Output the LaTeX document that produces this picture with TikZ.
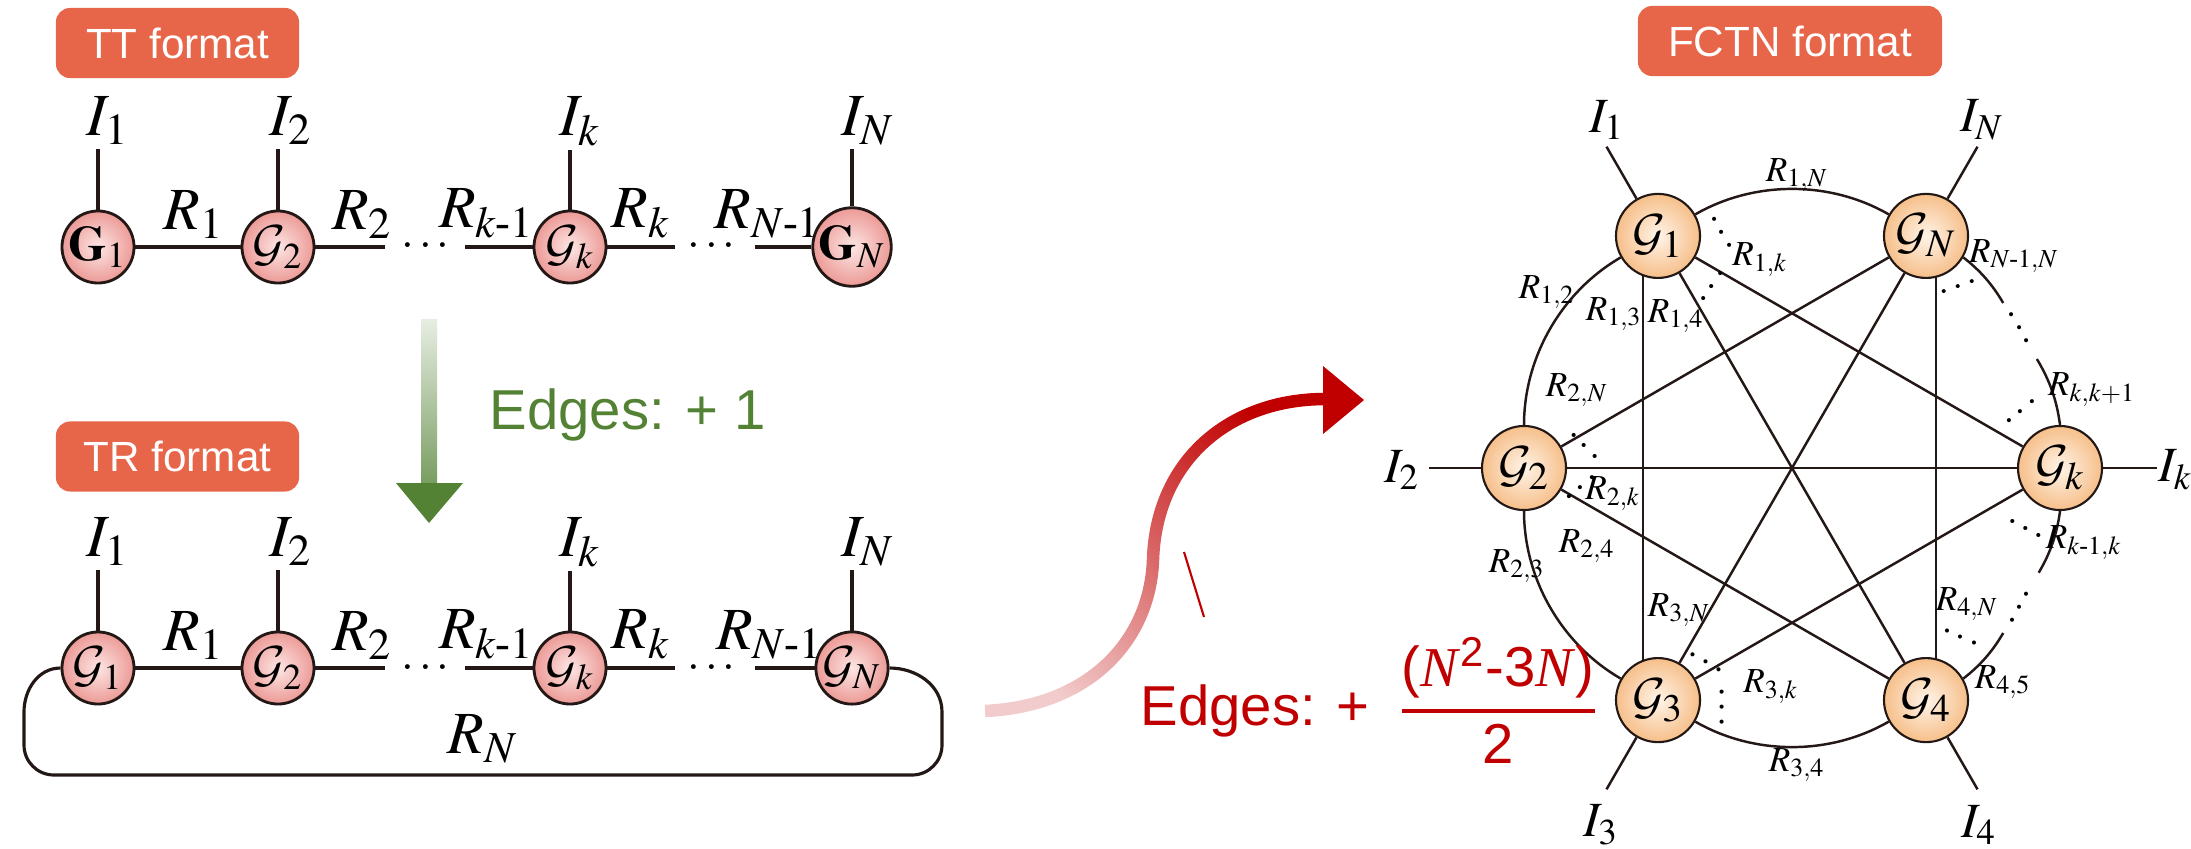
\documentclass[tikz,border=0pt]{standalone}
\usepackage{amsmath}
\usepackage{mathptmx}
\usepackage{fontspec}
\setmainfont{Liberation Serif}
\setsansfont{Liberation Sans}
\usetikzlibrary{positioning,calc,fadings}
\DeclareMathAlphabet{\mathcal}{OMS}{cmsy}{m}{n}
\definecolor{tagfill}{HTML}{E7664A}
\definecolor{ink}{HTML}{231815}
\definecolor{ttin}{HTML}{FCE6E4}
\definecolor{ttout}{HTML}{EC9A96}
\definecolor{fcin}{HTML}{FFF4E8}
\definecolor{fcout}{HTML}{F6BF8A}
\definecolor{gainA}{HTML}{548235}
\definecolor{gainB}{HTML}{C00000}
\pgfdeclarelayer{back}
\pgfsetlayers{back,main}
\tikzfading[name=riseup,left color=transparent!80,right color=transparent!0]
\newcommand{\nN}{\textrm{\textit{N}}}

\begin{document}
\begin{tikzpicture}[x=.01cm,y=-.01cm,
tag/.style={fill=tagfill,rounded corners=4pt,text=white,font=\sffamily\fontsize{12}{12}\selectfont,minimum height=.70cm,inner sep=0pt},
tnode/.style={circle,draw=ink,line width=.8pt,minimum size=.72cm,inner sep=0pt,inner color=ttin,outer color=ttout,font=\fontsize{14}{14}\selectfont},
fnode/.style={circle,draw=ink,line width=.6pt,minimum size=.84cm,inner sep=0pt,inner color=fcin,outer color=fcout,font=\fontsize{15}{15}\selectfont},
tlab/.style={font=\fontsize{17}{17}\selectfont,inner sep=1pt},
flab/.style={font=\fontsize{14}{14}\selectfont,inner sep=1pt},
rlab/.style={font=\fontsize{10}{10}\selectfont,inner sep=.5pt},
tline/.style={draw=ink,line width=1pt},
fline/.style={draw=ink,line width=.7pt},
farc/.style={fline,looseness=.9},
dots/.style={font=\fontsize{11}{11}\selectfont,inner sep=0pt},
gain/.style={font=\sffamily\fontsize{16}{16}\selectfont,anchor=base west,inner sep=0pt}]
\useasboundingbox (0,0) rectangle (2191,848);

% TT chain
\node[tag,minimum width=2.43cm] (tt) at (177.5,43) {TT format};
\node[tnode] (t1) at (98,247) {$\mathbf{G}_1$};
\node[tnode] (t2) at (278,247) {$\mathcal{G}_2$};
\node[tnode] (tk) at (570,247) {$\mathcal{G}_k$};
\node[tnode] (tN) at (852,247) {$\mathbf{G}_N$};
\node[tlab] (ti1) at (108,121) {$I_1$};
\node[tlab] (ti2) at (291,121) {$I_2$};
\node[tlab] (tik) at (580,121) {$I_k$};
\node[tlab] (tiN) at (868,121) {$I_N$};
\draw[tline] (t1)--(t1 |- ti1.south);
\draw[tline] (t2)--(t2 |- ti2.south);
\draw[tline] (tk)--(tk |- tik.south);
\draw[tline] (tN)--(tN |- tiN.south);
\coordinate (ta) at (385,247);
\coordinate (tb) at (465,247);
\coordinate (tc) at (675,247);
\coordinate (td) at (755,247);
\node[dots,font=\fontsize{13}{13}\selectfont] (tdt1) at (428,247) {$\cdots$};
\node[dots,font=\fontsize{13}{13}\selectfont] (tdt2) at (714,247) {$\cdots$};
\draw[tline] (t1)--node[tlab,above=1pt,xshift=.06cm]{$R_1$}(t2);
\draw[tline] (t2)--node[tlab,above=1pt,xshift=.12cm]{$R_2$}(ta);
\draw[tline] (tb)--node[tlab,above=1pt,xshift=-.12cm]{$R_{k\text{-}1}$}(tk);
\draw[tline] (tk)--node[tlab,above=1pt]{$R_k$}(tc);
\draw[tline] (td)--node[tlab,above=1pt,xshift=-.15cm]{$R_{N\text{-}1}$}(tN);

% step down
\coordinate (gtop) at (429,319);
\coordinate (gtip) at (429,523);
\shade[top color=gainA!14,bottom color=gainA!78] (421,319) rectangle (437,483);
\fill[gainA] (396,483)--(463,483)--(gtip)--cycle;
\node[gain,text=gainA] (gaintt) at (489,429) {Edges: + 1};

% TR chain
\node[tag,minimum width=2.43cm] (tr) at (177.5,456.5) {TR format};
\node[tnode] (r1) at (98,668) {$\mathcal{G}_1$};
\node[tnode] (r2) at (278,668) {$\mathcal{G}_2$};
\node[tnode] (rk) at (570,668) {$\mathcal{G}_k$};
\node[tnode] (rN) at (852,668) {$\mathcal{G}_N$};
\node[tlab] (ri1) at (108,542) {$I_1$};
\node[tlab] (ri2) at (291,542) {$I_2$};
\node[tlab] (rik) at (580,542) {$I_k$};
\node[tlab] (riN) at (868,542) {$I_N$};
\draw[tline] (r1)--(r1 |- ri1.south);
\draw[tline] (r2)--(r2 |- ri2.south);
\draw[tline] (rk)--(rk |- rik.south);
\draw[tline] (rN)--(rN |- riN.south);
\coordinate (ra) at (385,668);
\coordinate (rb) at (465,668);
\coordinate (rc) at (675,668);
\coordinate (rd) at (755,668);
\node[dots,font=\fontsize{13}{13}\selectfont] (rdt1) at (428,668) {$\cdots$};
\node[dots,font=\fontsize{13}{13}\selectfont] (rdt2) at (714,668) {$\cdots$};
\draw[tline] (r1)--node[tlab,above=1pt,xshift=.06cm]{$R_1$}(r2);
\draw[tline] (r2)--node[tlab,above=1pt,xshift=.12cm]{$R_2$}(ra);
\draw[tline] (rb)--node[tlab,above=1pt,xshift=-.12cm]{$R_{k\text{-}1}$}(rk);
\draw[tline] (rk)--node[tlab,above=1pt]{$R_k$}(rc);
\draw[tline] (rd)--node[tlab,above=1pt,xshift=-.15cm]{$R_{N\text{-}1}$}(rN);
\draw[tline,line width=.9pt] (r1.west) to[out=180,in=90] (24,712)--(24,745) to[out=-90,in=180] (54,775)
 --node[tlab,above=2pt]{$R_N$}(912,775) to[out=0,in=-90] (942,745)--(942,712) to[out=90,in=0] (rN.east);

% move to FCTN
\coordinate (rs) at (985,711);
\coordinate (rm) at (1153,560);
\coordinate (re) at (1325,399);
\draw[gainB,line width=.125cm,path fading=riseup,fading angle=45] (rs) .. controls (1090,706) and (1150,640) .. (rm)
 .. controls (1156,460) and (1230,399) .. (re);
\fill[gainB] (1323,366)--(1364,400)--(1323,434)--cycle;
\draw[gainB,line width=.6pt] (1184,552)--(1204,617);
\node[gain,text=gainB] (gainfc) at (1140,725)
 {Edges: +\hspace{.5em}$\genfrac{}{}{.9pt}{0}{\text{(\nN\textsuperscript{2}-3\nN)}}{\text{2}}$};

% FCTN ring
\node[tag,minimum width=3.04cm] (fc) at (1790,41) {FCTN format};
\coordinate (ctr) at (1792,468);
\node[fnode] (f1) at ($(ctr)+(-120:268)$) {$\mathcal{G}_1$};
\node[fnode] (fN) at ($(ctr)+(-60:268)$) {$\mathcal{G}_N$};
\node[fnode] (fk) at ($(ctr)+(0:268)$) {$\mathcal{G}_k$};
\node[fnode] (f4) at ($(ctr)+(60:268)$) {$\mathcal{G}_4$};
\node[fnode] (f3) at ($(ctr)+(120:268)$) {$\mathcal{G}_3$};
\node[fnode] (f2) at ($(ctr)+(180:268)$) {$\mathcal{G}_2$};
\coordinate (pa) at ($(ctr)+(-38:268)$);
\coordinate (pb) at ($(ctr)+(-24:268)$);
\coordinate (pc) at ($(ctr)+(23:268)$);
\coordinate (pd) at ($(ctr)+(38:268)$);
\coordinate (e1) at ($(ctr)+(-120:371)$);
\coordinate (eN) at ($(ctr)+(-60:371)$);
\coordinate (ek) at ($(ctr)+(0:365)$);
\coordinate (e4) at ($(ctr)+(60:371)$);
\coordinate (e3) at ($(ctr)+(120:371)$);
\coordinate (e2) at ($(ctr)+(180:363)$);
\begin{pgfonlayer}{back}
\draw[farc] (f2) to[bend left=30] (f1);
\draw[farc] (f1) to[bend left=30] (fN);
\draw[farc] (f4) to[bend left=30] (f3);
\draw[farc] (f3) to[bend left=30] (f2);
\draw[farc] (fN) to[bend left=11] (pa);
\draw[farc] (pb) to[bend left=12] (fk);
\draw[farc] (fk) to[bend left=11.5] (pc);
\draw[farc] (pd) to[bend left=11] (f4);
\draw[fline] ([xshift=-.15cm]f1.center)--([xshift=-.15cm]f3.center);
\draw[fline] ([xshift=.1cm]fN.center)--([xshift=.1cm]f4.center);
\draw[fline] (f1)--(f4);
\draw[fline] (f1)--(fk);
\draw[fline] (fN)--(f2);
\draw[fline] (fN)--(f3);
\draw[fline] (f2)--(fk);
\draw[fline] (f2)--(f4);
\draw[fline] (f3)--(fk);
\end{pgfonlayer}
\draw[fline] (f1)--(e1);
\draw[fline] (fN)--(eN);
\draw[fline] (fk)--(ek);
\draw[fline] (f4)--(e4);
\draw[fline] (f3)--(e3);
\draw[fline] (f2)--(e2);
\node[flab] (fi1) at (1607,120) {$I_1$};
\node[flab] (fiN) at (1982,120) {$I_N$};
\node[flab,anchor=west,inner sep=0pt] (fik) at (2158,470) {$I_k$};
\node[flab] (fi4) at (1979,825) {$I_4$};
\node[flab] (fi3) at (1601,825) {$I_3$};
\node[flab] (fi2) at (1402,470) {$I_2$};
\node[rlab] (r1N) at (1797,175) {$R_{1,N}$};
\node[rlab] (r1k) at (1760,260) {$R_{1,k}$};
\node[rlab] (r12) at (1547,292) {$R_{1,2}$};
\node[rlab] (r13) at (1614,314) {$R_{1,3}$};
\node[rlab] (r14) at (1676,316) {$R_{1,4}$};
\node[rlab] (r2N) at (1577,390) {$R_{2,N}$};
\node[rlab] (r2k) at (1613,494) {$R_{2,k}$};
\node[rlab] (r24) at (1587,546) {$R_{2,4}$};
\node[rlab] (r23) at (1517,566) {$R_{2,3}$};
\node[rlab] (r3N) at (1679,610) {$R_{3,N}$};
\node[rlab] (r3k) at (1771,687) {$R_{3,k}$};
\node[rlab] (r34) at (1797,765) {$R_{3,4}$};
\node[rlab] (r4N) at (1967,604) {$R_{4,N}$};
\node[rlab] (r45) at (2003,682) {$R_{4,5}$};
\node[rlab] (rk1k) at (2084,543) {$R_{k\text{-}1,k}$};
\node[rlab] (rkk1) at (2092,390) {$R_{k,k+1}$};
\node[rlab] (rN1N) at (2014,256) {$R_{N\text{-}1,N}$};
\node[dots,rotate=-60] (d1) at (1722,235) {$\cdots$};
\node[dots,rotate=55] (d2) at (1714,285) {$\cdots$};
\node[dots,rotate=20] (d3) at (1961,287) {$\cdots$};
\node[dots,rotate=-62] (d4) at (2019,330) {$\cdots$};
\node[dots,rotate=40] (d5) at (2023,411) {$\cdots$};
\node[dots,rotate=-28] (d6) at (2027,531) {$\cdots$};
\node[dots,rotate=62] (d7) at (2022,606) {$\cdots$};
\node[dots,rotate=-25] (d8) at (1962,639) {$\cdots$};
\node[dots,rotate=-30] (d9) at (1707,664) {$\cdots$};
\node[dots,rotate=90] (d10) at (1723,705) {$\cdots$};
\node[dots,rotate=-45] (d11) at (1585,448) {$\cdots$};
\node[dots,rotate=40] (d12) at (1583,487) {$\cdots$};
\end{tikzpicture}
\end{document}
